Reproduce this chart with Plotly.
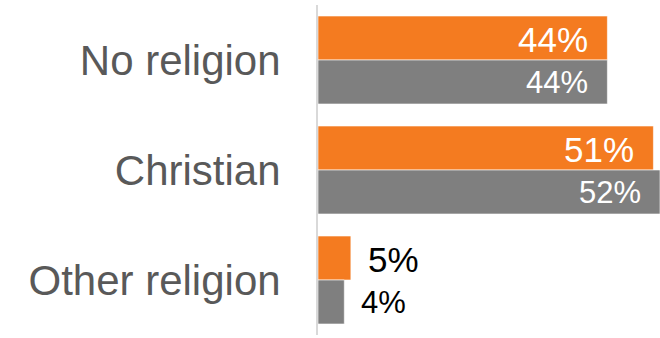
import plotly.graph_objects as go

categories = ["No religion", "Christian", "Other religion"]
orange_values = [44, 51, 5]
gray_values = [44, 52, 4]

ORANGE = "#F47B20"
GRAY = "#7F7F7F"
FONT = "Liberation Sans, Arial, sans-serif"

fig = go.Figure()
fig.add_trace(go.Bar(
    y=categories, x=orange_values, orientation="h",
    marker=dict(color=ORANGE, line=dict(color="white", width=0.6)),
    hoverinfo="skip", name="A",
))
fig.add_trace(go.Bar(
    y=categories, x=gray_values, orientation="h",
    marker=dict(color=GRAY, line=dict(color="white", width=0.6)),
    hoverinfo="skip", name="B",
))

# value labels: inside (white) for long bars, outside (black) for short ones
annotations = []
for series, vals, size, yshift in (
    ("A", orange_values, 35, 21),
    ("B", gray_values, 31, -22),
):
    for cat, v in zip(categories, vals):
        inside = v >= 20
        annotations.append(dict(
            x=v, y=cat, xref="x", yref="y",
            text=f"{v}%", showarrow=False,
            xanchor="right" if inside else "left",
            xshift=-17 if inside else 15,
            yshift=yshift,
            font=dict(family=FONT, size=size,
                      color="white" if inside else "black"),
        ))

fig.update_layout(
    width=660, height=338,
    margin=dict(l=318, r=0, t=5, b=3),
    paper_bgcolor="white", plot_bgcolor="white",
    barmode="group", bargap=0.2, bargroupgap=0,
    showlegend=False,
    annotations=annotations,
    xaxis=dict(range=[0, 52], visible=False, fixedrange=True),
    yaxis=dict(
        autorange="reversed",
        showline=True, linecolor="#D9D9D9", linewidth=2,
        showgrid=False, zeroline=False,
        ticks="", ticklabelstandoff=27,
        tickfont=dict(family=FONT, size=42, color="#595959"),
        fixedrange=True,
    ),
)

fig.write_html("out.html")
